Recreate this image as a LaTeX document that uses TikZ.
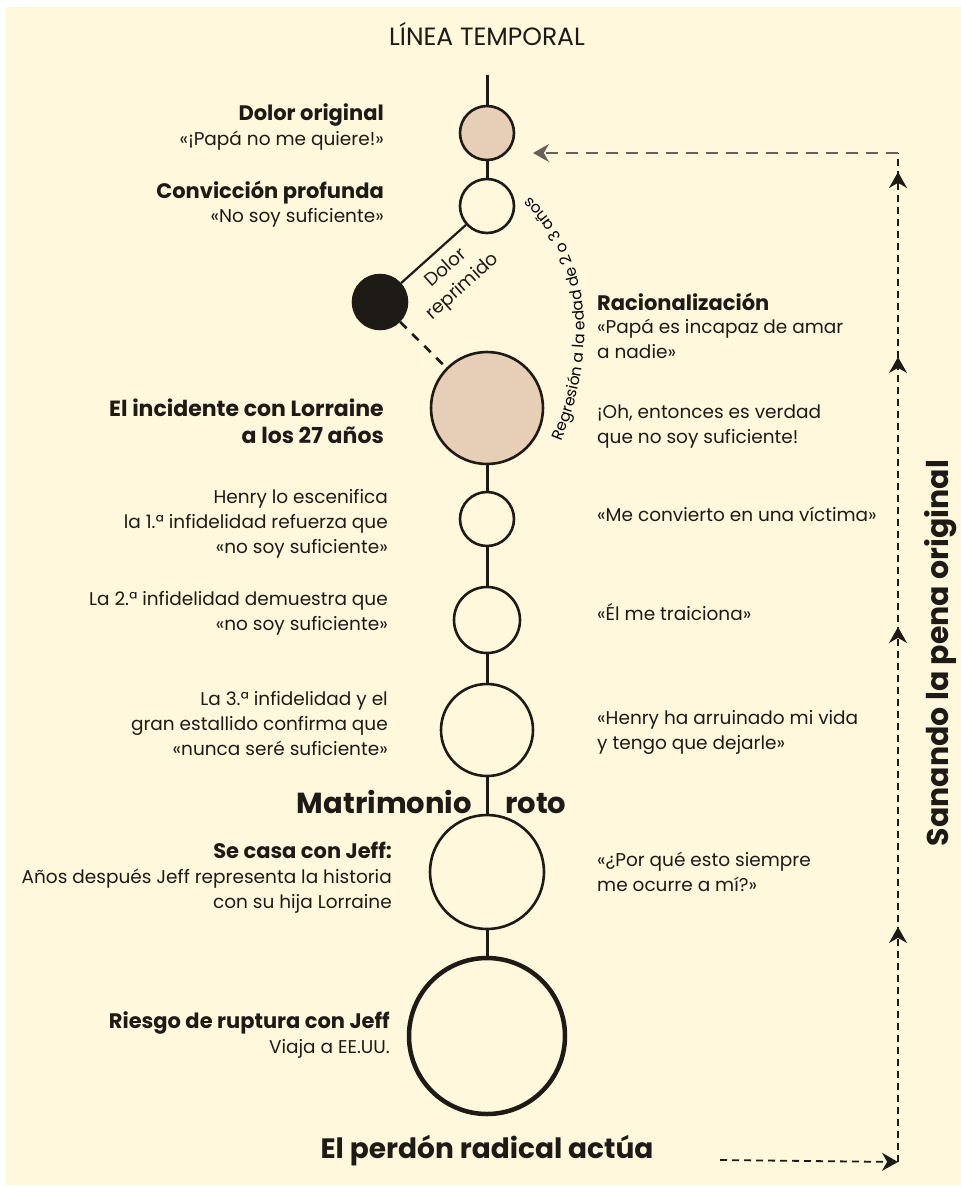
\documentclass[tikz,border=0pt]{standalone}
\usepackage{fontspec}
\setmainfont{Poppins}
\usetikzlibrary{arrows.meta, decorations.markings, decorations.text}

\definecolor{paper}{RGB}{255,248,221}
\definecolor{ink}{RGB}{30,26,22}
\definecolor{skin}{RGB}{230,207,182}
\definecolor{dashgray}{RGB}{105,97,88}

\tikzset{healtip/.tip={Stealth[length=16pt, width=18pt]}}

\begin{document}
\begin{tikzpicture}[x=1pt, y=-1pt,
    every node/.style={text=ink},
    stage/.style={circle, draw=ink, line width=2.6pt, inner sep=0pt, minimum size=#1},
    hurt/.style={stage=#1, fill=skin},
    spine/.style={draw=ink, line width=3pt},
    head/.style={font=\fontsize{21}{27}\selectfont\bfseries, inner sep=0pt},
    note/.style={font=\fontsize{18.5}{25}\selectfont, inner sep=0pt},
    leftside/.style={anchor=base east, align=right},
    rightside/.style={anchor=base west, align=left},
    shout/.style={font=\fontsize{29}{32}\selectfont\bfseries, inner sep=0pt},
    healing/.style={draw=ink, line width=1.8pt, dash pattern=on 7pt off 5pt},
    rising/.style={postaction={decorate, decoration={markings,
        mark=at position 235pt with {\arrow{healtip}},
        mark=at position 535pt with {\arrow{healtip}},
        mark=at position 805pt with {\arrow{healtip}},
        mark=at position 990pt with {\arrow{healtip}}}}}]

  % page and its white edge
  \useasboundingbox (0,0) rectangle (961,1187);
  \fill[white] (0,0) rectangle (961,1187);
  \fill[paper] (6,7) rectangle (961,1185);

  \node[font=\fontsize{25}{28}\selectfont, anchor=base] (title) at (487,45) {LÍNEA TEMPORAL};

  % the stages on the timeline, top to bottom
  \coordinate (top) at (487,75);
  \node[hurt=54pt]  (dolor)      at (487,133) {};
  \node[stage=54pt] (conviccion) at (487,206) {};
  \node[stage=54pt, fill=ink] (reprimido) at (380,302) {};
  \node[hurt=112pt] (lorraine)   at (487,408) {};
  \node[stage=54pt] (henry)      at (487,519) {};
  \node[stage=66pt] (segunda)    at (487,620) {};
  \node[stage=92pt] (tercera)    at (487,730) {};
  \node[stage=114pt] (jeff)      at (487,872) {};
  \node[stage=156pt, line width=4.5pt] (riesgo) at (487,1036) {};

  \draw[spine] (top) -- (dolor);
  \foreach \a/\b in {dolor/conviccion, lorraine/henry, henry/segunda,
                     segunda/tercera, tercera/jeff, jeff/riesgo}
    \draw[spine] (\a) -- (\b);

  % the side branch: repressed pain comes back with Lorraine
  \draw[spine, line width=2.2pt] (reprimido) -- node[note, sloped, below=9pt, align=center] {Dolor\\reprimido} (conviccion);
  \draw[draw=ink, line width=2.6pt, dash pattern=on 9pt off 8pt] (reprimido) -- (lorraine);

  \coordinate (arc start) at (558,449);
  \coordinate (arc end) at (524,191);
  \path[decorate, decoration={text along path, text align=center,
      text={|\fontsize{15.5}{15.5}\selectfont|Regresión a la edad de 2 o 3 años}}]
    (arc start) .. controls (593,370) and (604,262) .. (arc end);

  % left column
  \node[head, leftside] (dolor head) at (384,120) {Dolor original};
  \node[note, leftside] (dolor note) at (384,145) {«¡Papá no me quiere!»};
  \node[head, leftside] (conv head) at (384,198) {Convicción profunda};
  \node[note, leftside] (conv note) at (384,222) {«No soy suficiente»};
  \node[head, leftside, font=\fontsize{22}{27}\selectfont\bfseries] (lorraine head) at (384,443)
    {El incidente con Lorraine\\a los 27 años};
  \node[note, leftside] (henry note) at (388,553)
    {Henry lo escenifica\\la 1.ª infidelidad refuerza que\\«no soy suficiente»};
  \node[note, leftside] (segunda note) at (388,630)
    {La 2.ª infidelidad demuestra que\\«no soy suficiente»};
  \node[note, leftside] (tercera note) at (388,755)
    {La 3.ª infidelidad y el\\gran estallido confirma que\\«nunca seré suficiente»};
  \node[shout, anchor=base east] (matrimonio) at (472,813) {Matrimonio};
  \node[shout, anchor=base west] (roto) at (505,813) {roto};
  \node[head, leftside] (jeff head) at (392,858) {Se casa con Jeff:};
  \node[note, leftside] (jeff note) at (392,908)
    {Años después Jeff representa la historia\\con su hija Lorraine};
  \node[head, leftside] (riesgo head) at (390,1028) {Riesgo de ruptura con Jeff};
  \node[note, leftside] (riesgo note) at (390,1053) {Viaja a EE.UU.};

  % right column
  \node[head, rightside] (racional head) at (597,310) {Racionalización};
  \node[note, rightside] (racional note) at (597,358) {«Papá es incapaz de amar\\a nadie»};
  \node[note, rightside] (oh note) at (597,443) {¡Oh, entonces es verdad\\que no soy suficiente!};
  \node[note, rightside] (victima note) at (597,521) {«Me convierto en una víctima»};
  \node[note, rightside] (traiciona note) at (597,620) {«Él me traiciona»};
  \node[note, rightside] (arruinado note) at (597,749) {«Henry ha arruinado mi vida\\y tengo que dejarle»};
  \node[note, rightside] (porque note) at (597,891) {«¿Por qué esto siempre\\me ocurre a mí?»};

  % healing loop back to the original pain
  \node[shout, font=\fontsize{28}{32}\selectfont\bfseries, anchor=base] (perdon) at (487,1158) {El perdón radical actúa};
  \node[shout, font=\fontsize{30}{32}\selectfont\bfseries, rotate=90] (sanando) at (941,653) {Sanando la pena original};
  \coordinate (heal start) at (720,1160);
  \coordinate (heal bottom) at (898,1162);
  \coordinate (heal top) at (898,153);
  \coordinate (heal tip) at (533,153);
  \draw[healing, -healtip] (heal start) -- (heal bottom);
  \draw[healing, rising] (heal bottom) -- (heal top);
  \draw[healing, draw=dashgray, dash pattern=on 12pt off 8pt, -healtip] (heal top) -- (heal tip);
\end{tikzpicture}
\end{document}
